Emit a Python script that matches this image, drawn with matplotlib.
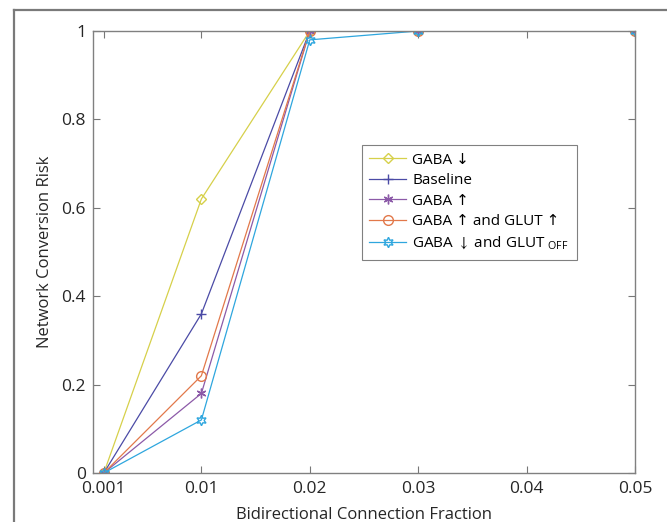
import matplotlib
matplotlib.use("Agg")
from matplotlib import pyplot as plt
from matplotlib.lines import Line2D

plt.rcParams['font.family'] = ['Open Sans', 'DejaVu Sans']
plt.rcParams['mathtext.fontset'] = 'custom'
plt.rcParams['mathtext.rm'] = 'Open Sans'
plt.rcParams['mathtext.fallback'] = 'stix'

fractions = [0.001, 0.01, 0.02, 0.03, 0.05]
gaba_down = [0.0, 0.62, 1.0, 1.0, 1.0]
baseline = [0.0, 0.36, 1.0, 1.0, 1.0]
gaba_up = [0.0, 0.18, 1.0, 1.0, 1.0]
gaba_up_glut_up = [0.0, 0.22, 1.0, 1.0, 1.0]
gaba_down_glut_off = [0.0, 0.12, 0.98, 1.0, 1.0]

x_ticks = [0.001, 0.01, 0.02, 0.03, 0.04, 0.05]
x_tick_labels = ["0.001", "0.01", "0.02", "0.03", "0.04", "0.05"]
y_ticks = [0, 0.2, 0.4, 0.6, 0.8, 1]
y_tick_labels = ["0", "0.2", "0.4", "0.6", "0.8", "1"]

series = [
    (gaba_down, "GABA ↓", "#d6d04a", "D", 5.5),
    (baseline, "Baseline", "#4b4ba6", "+", 7),
    (gaba_up, "GABA ↑", "#8c5aa8", (6, 2, 0), 7),
    (gaba_up_glut_up, "GABA ↑ and GLUT ↑", "#e2784a", "o", 7),
    (gaba_down_glut_off, "GABA $\\downarrow$ and GLUT $_{\\mathrm{OFF}}$", "#2ea6de", (6, 1, 0), 7.5),
]

fig = plt.figure(figsize=(6.67, 5.22), dpi=100)
ax = fig.add_axes([0.1394, 0.0939, 0.8126, 0.8467])

for values, label, color, marker, size in series:
    ax.plot(fractions, values, color=color, lw=0.9, marker=marker, ms=size,
            mfc="none", mec=color, mew=1.0, label=label)

ax.set_xlim(0, 0.05)
ax.set_ylim(0, 1)
ax.set_xticks(x_ticks)
ax.set_xticklabels(x_tick_labels)
ax.set_yticks(y_ticks)
ax.set_yticklabels(y_tick_labels)
ax.tick_params(direction="in", top=True, right=True, length=5, width=0.8,
               color="#777777", labelsize=12.5, labelcolor="#262626")
ax.tick_params(axis="x", pad=6)
ax.tick_params(axis="y", pad=5)
for spine in ax.spines.values():
    spine.set_color("#808080")
    spine.set_linewidth(1.0)

ax.set_xlabel("Bidirectional Connection Fraction", fontsize=12, color="#262626", labelpad=7)
ax.set_ylabel("Network Conversion Risk", fontsize=12, color="#262626", labelpad=6)

leg = ax.legend(loc="upper left", bbox_to_anchor=(0.496, 0.742), borderaxespad=0,
                fontsize=11, fancybox=False, framealpha=1, edgecolor="#808080",
                handlelength=2.4, labelspacing=0.36, handletextpad=0.4, borderpad=0.5)
leg.get_frame().set_linewidth(0.8)

# panel frame around the figure
fig.add_artist(Line2D([0.021, 1.0], [0.981, 0.981], transform=fig.transFigure,
                      color="#7a7a7a", lw=1.6))
fig.add_artist(Line2D([0.021, 0.021], [0.0, 0.981], transform=fig.transFigure,
                      color="#7a7a7a", lw=1.6))

fig.savefig("out.png", dpi=100)
